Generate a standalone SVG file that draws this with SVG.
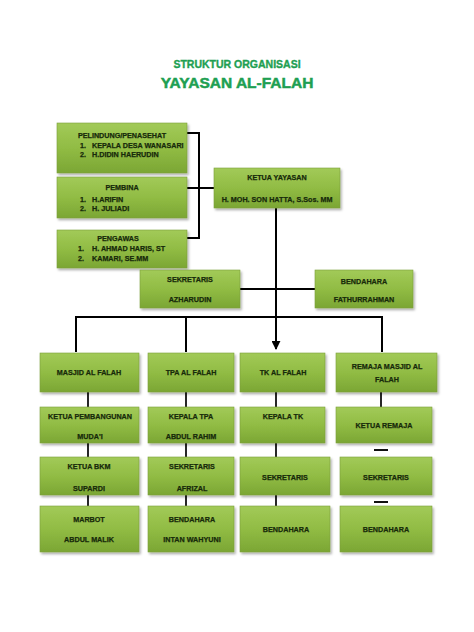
<svg xmlns="http://www.w3.org/2000/svg" width="474" height="632" viewBox="0 0 474 632">
<defs>
<linearGradient id="g" x1="0" y1="0" x2="0" y2="1">
<stop offset="0" stop-color="#a2ca58"/>
<stop offset="0.5" stop-color="#91bc44"/>
<stop offset="1" stop-color="#7ba634"/>
</linearGradient>
<filter id="sh" x="-10%" y="-10%" width="130%" height="140%">
<feDropShadow dx="1.5" dy="2" stdDeviation="1.2" flood-color="#000" flood-opacity="0.3"/>
</filter>
<marker id="arr" viewBox="0 0 10 10" refX="9" refY="5" markerWidth="4.5" markerHeight="4.5" orient="auto" markerUnits="strokeWidth">
<path d="M0,0 L10,5 L0,10 z" fill="#000"/>
</marker>
<style>
rect.b{fill:url(#g);stroke:#7c9f3e;stroke-width:0.6;filter:url(#sh)}
text{font-family:"Liberation Sans",Arial,sans-serif;font-weight:bold;font-size:7.2px;fill:#172a0a;stroke:#172a0a;stroke-width:0.25}
text.c{text-anchor:middle}
.t1{font-size:10.5px;fill:#1e9f52;stroke:#1e9f52;stroke-width:0.35;text-anchor:middle}
.t2{font-size:15.5px;fill:#1e9f52;stroke:#1e9f52;stroke-width:0.5;text-anchor:middle}
.ln{stroke:#000;stroke-width:2;fill:none}
.ln1{stroke:#111;stroke-width:1.8;fill:none}
</style>
</defs>
<rect width="474" height="632" fill="#fff"/>
<g id="title">
<text class="t1" x="237" y="68">STRUKTUR ORGANISASI</text>
<text class="t2" x="237" y="88">YAYASAN AL-FALAH</text>
</g>
<g id="connectors">
<path class="ln" d="M187,133 H199 V238 H187 M187,188 H214"/>
<path class="ln" d="M240,289 H315"/>
<path class="ln" d="M76,352 V317 H382 V352 M186,317 V352"/>
<path class="ln" d="M276,208 V349" marker-end="url(#arr)"/>
<path class="ln1" d="M88,392 V407 M88,443 V457 M88,495 V506"/>
<path class="ln1" d="M186,392 V407 M186,443 V457 M186,495 V506"/>
<path class="ln1" d="M276,392 V407 M276,443 V457 M276,495 V509"/>
<path class="ln1" d="M381,392 V407 M374,450 H388 M374,502 H388"/>
</g>
<g id="pelindung">
<rect class="b" x="57" y="123" width="130" height="50"/>
<text class="c" x="122" y="137.5">PELINDUNG/PENASEHAT</text>
<text x="80" y="147.5">1.</text><text x="92" y="147.5">KEPALA DESA WANASARI</text>
<text x="80" y="157">2.</text><text x="92" y="157">H.DIDIN HAERUDIN</text>
</g>
<g id="pembina">
<rect class="b" x="57" y="177" width="130" height="41"/>
<text class="c" x="122" y="189.5">PEMBINA</text>
<text x="80" y="201.5">1.</text><text x="92" y="201.5">H.ARIFIN</text>
<text x="80" y="210.5">2.</text><text x="92" y="210.5">H. JULIADI</text>
</g>
<g id="pengawas">
<rect class="b" x="57" y="230" width="130" height="38"/>
<text class="c" x="118" y="240.5">PENGAWAS</text>
<text x="78" y="250.5">1.</text><text x="92" y="250.5">H. AHMAD HARIS, ST</text>
<text x="78" y="260.5">2.</text><text x="92" y="260.5">KAMARI, SE.MM</text>
</g>
<g id="ketua">
<rect class="b" x="214" y="168" width="126" height="40"/>
<text class="c" x="277" y="179.5">KETUA YAYASAN</text>
<text class="c" x="277" y="201.5">H. MOH. SON HATTA, S.Sos. MM</text>
</g>
<g id="sekretaris">
<rect class="b" x="140" y="270" width="100" height="38"/>
<text class="c" x="190" y="281.5">SEKRETARIS</text>
<text class="c" x="190" y="302">AZHARUDIN</text>
</g>
<g id="bendahara">
<rect class="b" x="315" y="270" width="98" height="38"/>
<text class="c" x="364" y="283.5">BENDAHARA</text>
<text class="c" x="364" y="301.5">FATHURRAHMAN</text>
</g>
<g id="masjid">
<rect class="b" x="40" y="353" width="99" height="39"/>
<text class="c" x="89" y="374.5">MASJID AL FALAH</text>
</g>
<g id="tpa">
<rect class="b" x="148" y="353" width="86" height="39"/>
<text class="c" x="191" y="374.5">TPA AL FALAH</text>
</g>
<g id="tk">
<rect class="b" x="240" y="353" width="85" height="39"/>
<text class="c" x="283" y="374.5">TK AL FALAH</text>
</g>
<g id="remaja">
<rect class="b" x="336" y="353" width="101" height="39"/>
<text class="c" x="387" y="368.5">REMAJA MASJID AL</text>
<text class="c" x="387" y="381.5">FALAH</text>
</g>
<g id="ketua-pembangunan">
<rect class="b" x="40" y="407" width="99" height="36"/>
<text class="c" x="90" y="418.5">KETUA PEMBANGUNAN</text>
<text class="c" x="90" y="438.5">MUDA'I</text>
</g>
<g id="kepala-tpa">
<rect class="b" x="148" y="407" width="86" height="36"/>
<text class="c" x="191" y="418.5">KEPALA TPA</text>
<text class="c" x="191" y="438.5">ABDUL RAHIM</text>
</g>
<g id="kepala-tk">
<rect class="b" x="240" y="407" width="85" height="36"/>
<text class="c" x="283" y="418.5">KEPALA TK</text>
</g>
<g id="ketua-remaja">
<rect class="b" x="336" y="407" width="96" height="36"/>
<text class="c" x="384" y="427.5">KETUA REMAJA</text>
</g>
<g id="ketua-bkm">
<rect class="b" x="40" y="457" width="99" height="38"/>
<text class="c" x="89" y="468.5">KETUA BKM</text>
<text class="c" x="89" y="490.5">SUPARDI</text>
</g>
<g id="sekretaris-tpa">
<rect class="b" x="148" y="457" width="86" height="38"/>
<text class="c" x="192" y="468.5">SEKRETARIS</text>
<text class="c" x="192" y="490.5">AFRIZAL</text>
</g>
<g id="sekretaris-tk">
<rect class="b" x="240" y="457" width="90" height="38"/>
<text class="c" x="285" y="479.5">SEKRETARIS</text>
</g>
<g id="sekretaris-remaja">
<rect class="b" x="340" y="457" width="92" height="38"/>
<text class="c" x="386" y="479.5">SEKRETARIS</text>
</g>
<g id="marbot">
<rect class="b" x="40" y="506" width="99" height="46"/>
<text class="c" x="89" y="521.5">MARBOT</text>
<text class="c" x="89" y="541.5">ABDUL MALIK</text>
</g>
<g id="bendahara-tpa">
<rect class="b" x="148" y="506" width="86" height="46"/>
<text class="c" x="192" y="521.5">BENDAHARA</text>
<text class="c" x="192" y="541.5">INTAN WAHYUNI</text>
</g>
<g id="bendahara-tk">
<rect class="b" x="240" y="506" width="90" height="46"/>
<text class="c" x="286" y="531.5">BENDAHARA</text>
</g>
<g id="bendahara-remaja">
<rect class="b" x="340" y="506" width="92" height="46"/>
<text class="c" x="386" y="531.5">BENDAHARA</text>
</g>
</svg>
